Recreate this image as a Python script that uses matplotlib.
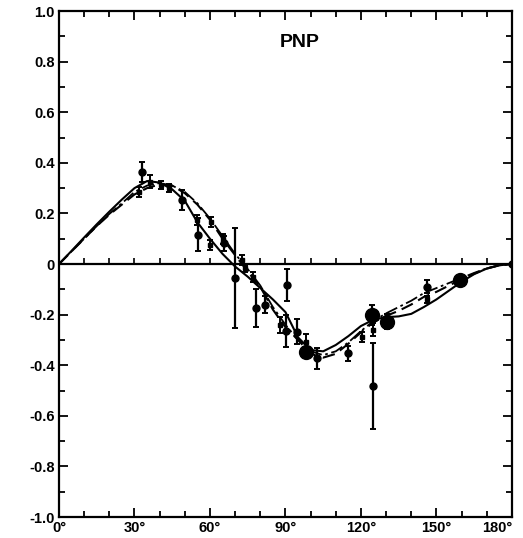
import matplotlib
matplotlib.use("Agg")
import matplotlib.pyplot as plt
import numpy as np

plt.rcParams['font.family'] = ['Liberation Sans', 'DejaVu Sans']

# theory curves at 5 degree steps
angle = [0, 5, 10, 15, 20, 25, 30, 35, 40, 45, 50, 55, 60, 65, 70, 75, 80, 85, 90,
         95, 100, 105, 110, 115, 120, 125, 130, 135, 140, 145, 150, 155, 160, 165,
         170, 175, 180]
solid = [0, 0.052, 0.105, 0.157, 0.207, 0.255, 0.30, 0.328, 0.322, 0.295, 0.25, 0.165,
         0.10, 0.04, -0.01, -0.05, -0.095, -0.14, -0.19, -0.29, -0.34, -0.345, -0.32,
         -0.285, -0.245, -0.22, -0.21, -0.207, -0.197, -0.17, -0.14, -0.105, -0.07,
         -0.04, -0.018, -0.005, 0]
dashed = [0, 0.05, 0.10, 0.15, 0.195, 0.235, 0.275, 0.30, 0.315, 0.31, 0.28, 0.235,
          0.175, 0.10, 0.035, -0.03, -0.09, -0.18, -0.25, -0.30, -0.355, -0.37, -0.355,
          -0.315, -0.27, -0.23, -0.205, -0.185, -0.16, -0.13, -0.11, -0.085, -0.06,
          -0.038, -0.018, -0.005, 0]
dashdot = [0, 0.05, 0.10, 0.15, 0.198, 0.24, 0.285, 0.31, 0.32, 0.31, 0.285, 0.24,
           0.18, 0.11, 0.04, -0.02, -0.085, -0.17, -0.24, -0.30, -0.345, -0.36, -0.345,
           -0.31, -0.265, -0.225, -0.195, -0.17, -0.145, -0.115, -0.095, -0.075, -0.055,
           -0.035, -0.017, -0.005, 0]

# data set 1: small filled circles
d1_x = [33.1, 48.7, 55.1, 65.6, 69.9, 78.3, 81.9, 90.5, 90.2, 94.4, 102.4, 115.0, 124.9, 146.1, 180.0]
d1_y = [0.365, 0.253, 0.115, 0.082, -0.055, -0.173, -0.16, -0.083, -0.265, -0.268, -0.373,
        -0.353, -0.484, -0.09, 0.0]
d1_err = [0.04, 0.04, 0.065, 0.03, 0.197, 0.076, 0.033, 0.065, 0.063, 0.05, 0.043, 0.03,
          0.17, 0.025, 0.0]

# data set 2: bars with small ticks
d2_x = [31.9, 36.2, 40.5, 43.8, 54.7, 60.6, 60.0, 65.0, 72.7, 73.9, 77.2, 87.8, 98.2, 120.5, 124.9, 146.1]
d2_y = [0.286, 0.325, 0.312, 0.30, 0.174, 0.167, 0.075, 0.10, 0.016, -0.017, -0.05, -0.241,
        -0.31, -0.29, -0.26, -0.14]
d2_err = [0.02, 0.025, 0.015, 0.015, 0.02, 0.02, 0.02, 0.02, 0.02, 0.015, 0.02, 0.03, 0.035,
          0.02, 0.025, 0.015]

# data set 3: large dots
d3_x = [98.2, 124.2, 130.4, 159.4]
d3_y = [-0.347, -0.20, -0.228, -0.063]
d3_err = [0.0, 0.04, 0.03, 0.0]

xticks = [0, 30, 60, 90, 120, 150, 180]
xlabels = ['0°', '30°', '60°', '90°', '120°', '150°', '180°']
yticks = [1.0, 0.8, 0.6, 0.4, 0.2, 0, -0.2, -0.4, -0.6, -0.8, -1.0]
ylabels = ['1.0', '0.8', '0.6', '0.4', '0.2', '0', '-0.2', '-0.4', '-0.6', '-0.8', '-1.0']

fig = plt.figure(figsize=(5.23, 5.38), dpi=100)
ax = fig.add_axes([0.1128, 0.039, 0.866, 0.9405])

ax.plot(angle, solid, color='black', lw=1.5)
ax.plot(angle, dashed, color='black', lw=1.5, linestyle=(0, (6, 3)))
ax.plot(angle, dashdot, color='black', lw=1.3, linestyle=(0, (7, 2, 1.5, 2)))

ax.errorbar(d1_x, d1_y, yerr=d1_err, fmt='o', color='black', ms=5, elinewidth=1.6, capsize=2.5, capthick=1.4)
ax.errorbar(d2_x, d2_y, yerr=d2_err, fmt='s', color='black', ms=2.5, elinewidth=1.4, capsize=2.5, capthick=1.4)
ax.errorbar(d3_x, d3_y, yerr=d3_err, fmt='o', color='black', ms=10, elinewidth=1.6, capsize=2.5, capthick=1.4)

# zero line with its own small ticks
ax.axhline(0, color='black', lw=1.6)
minor_x = np.arange(10, 180, 10)
ax.vlines(minor_x, 0, 0.022, color='black', lw=1.2)

ax.text(95.8, 0.874, 'PNP', ha='center', va='center', fontsize=14, fontweight='bold')

ax.set_xlim(0, 180)
ax.set_ylim(-1.0, 1.0)
ax.set_xticks(xticks)
ax.set_xticklabels(xlabels)
ax.set_yticks(yticks)
ax.set_yticklabels(ylabels)
ax.set_xticks(np.arange(0, 181, 10), minor=True)
ax.set_yticks(np.arange(-1.0, 1.01, 0.1), minor=True)
ax.tick_params(which='both', direction='in', top=True, right=True, width=1.3, colors='black')
ax.tick_params(which='major', length=6.5, labelsize=10.5, pad=3)
ax.tick_params(which='minor', length=4.5)
for lab in ax.get_xticklabels() + ax.get_yticklabels():
    lab.set_fontweight('bold')
# keep the last angle label inside the picture
ax.get_xticklabels()[-1].set_horizontalalignment('right')
for s in ax.spines.values():
    s.set_linewidth(1.6)

fig.savefig('out.png', dpi=100)
